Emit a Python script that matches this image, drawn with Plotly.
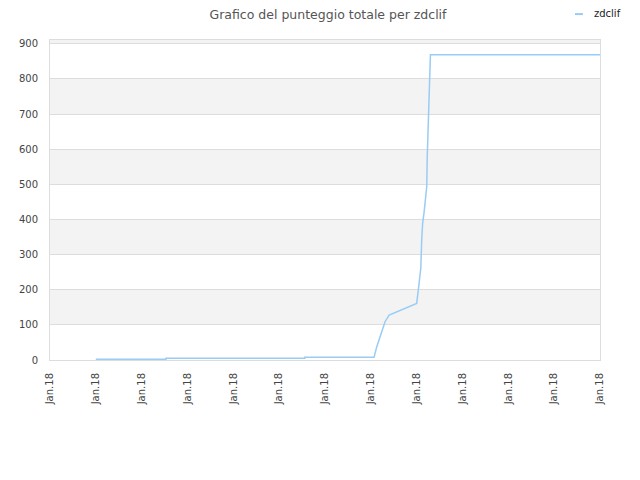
import plotly.graph_objects as go

# posizioni lungo l'asse x (unita = passo tra le etichette)
x_pos = [1.0, 2.53, 2.53, 5.56, 5.56, 7.07, 7.13, 7.20, 7.25, 7.31, 7.40, 7.71,
         8.00, 8.04, 8.07, 8.09, 8.11, 8.13, 8.16, 8.20, 8.22, 8.23, 8.25,
         8.27, 8.28, 8.30, 12.0]
punteggio = [2, 2, 5, 5, 8, 8, 38, 66, 90, 109, 128, 144,
             161, 204, 237, 261, 342, 389, 418, 461, 494, 575, 684,
             750, 826, 869, 869]
tick_vals = list(range(13))
tick_text = ["Jan.18"] * 13
y_ticks = [0, 100, 200, 300, 400, 500, 600, 700, 800, 900]
y_max = 911
serie = "zdclif"
colore = "#99ccf5"

fig = go.Figure()
fig.add_trace(go.Scatter(x=x_pos, y=punteggio, mode="lines", name=serie,
                         line=dict(color=colore, width=1.5), showlegend=False))

# bande alternate grigie
shapes = []
for i in range(1, len(y_ticks), 2):
    y1 = y_ticks[i + 1] if i + 1 < len(y_ticks) else y_max
    shapes.append(dict(type="rect", xref="paper", yref="y", x0=0, x1=1,
                       y0=y_ticks[i], y1=y1, fillcolor="#f3f3f3",
                       line=dict(width=0), layer="below"))
# legenda compatta in alto a destra
shapes.append(dict(type="line", xref="paper", yref="paper", x0=0.9545, x1=0.969,
                   y0=1.081, y1=1.081, line=dict(color=colore, width=2)))

fig.update_layout(
    width=640, height=480,
    margin=dict(l=42, r=48, t=32, b=128, autoexpand=False),
    paper_bgcolor="white", plot_bgcolor="white",
    font=dict(family="DejaVu Sans", size=10, color="#444"),
    title=dict(text="Grafico del punteggio totale per zdclif", x=0.5, xanchor="center",
               y=1, yanchor="top", pad=dict(t=2), font=dict(size=12.5, color="#555")),
    showlegend=False,
    shapes=shapes,
    annotations=[dict(text=serie, xref="paper", yref="paper", x=0.985, y=1.084,
                      xanchor="left", yanchor="middle", showarrow=False,
                      font=dict(size=10, color="#222"))],
)
fig.update_xaxes(range=[0, 12], tickvals=tick_vals, ticktext=tick_text,
                 tickangle=-90, showgrid=False, zeroline=False,
                 showline=True, linecolor="#dddddd", linewidth=1, mirror=True,
                 ticks="", ticklabelstandoff=8, automargin=False,
                 tickfont=dict(size=10, color="#444"))
fig.update_yaxes(range=[0, y_max], tickvals=y_ticks, showgrid=True,
                 gridcolor="#dddddd", gridwidth=1, zeroline=False,
                 showline=True, linecolor="#dddddd", linewidth=1, mirror=True,
                 ticks="", ticklabelstandoff=9, automargin=False,
                 tickfont=dict(size=10, color="#444"))

fig.write_html("out.html")
